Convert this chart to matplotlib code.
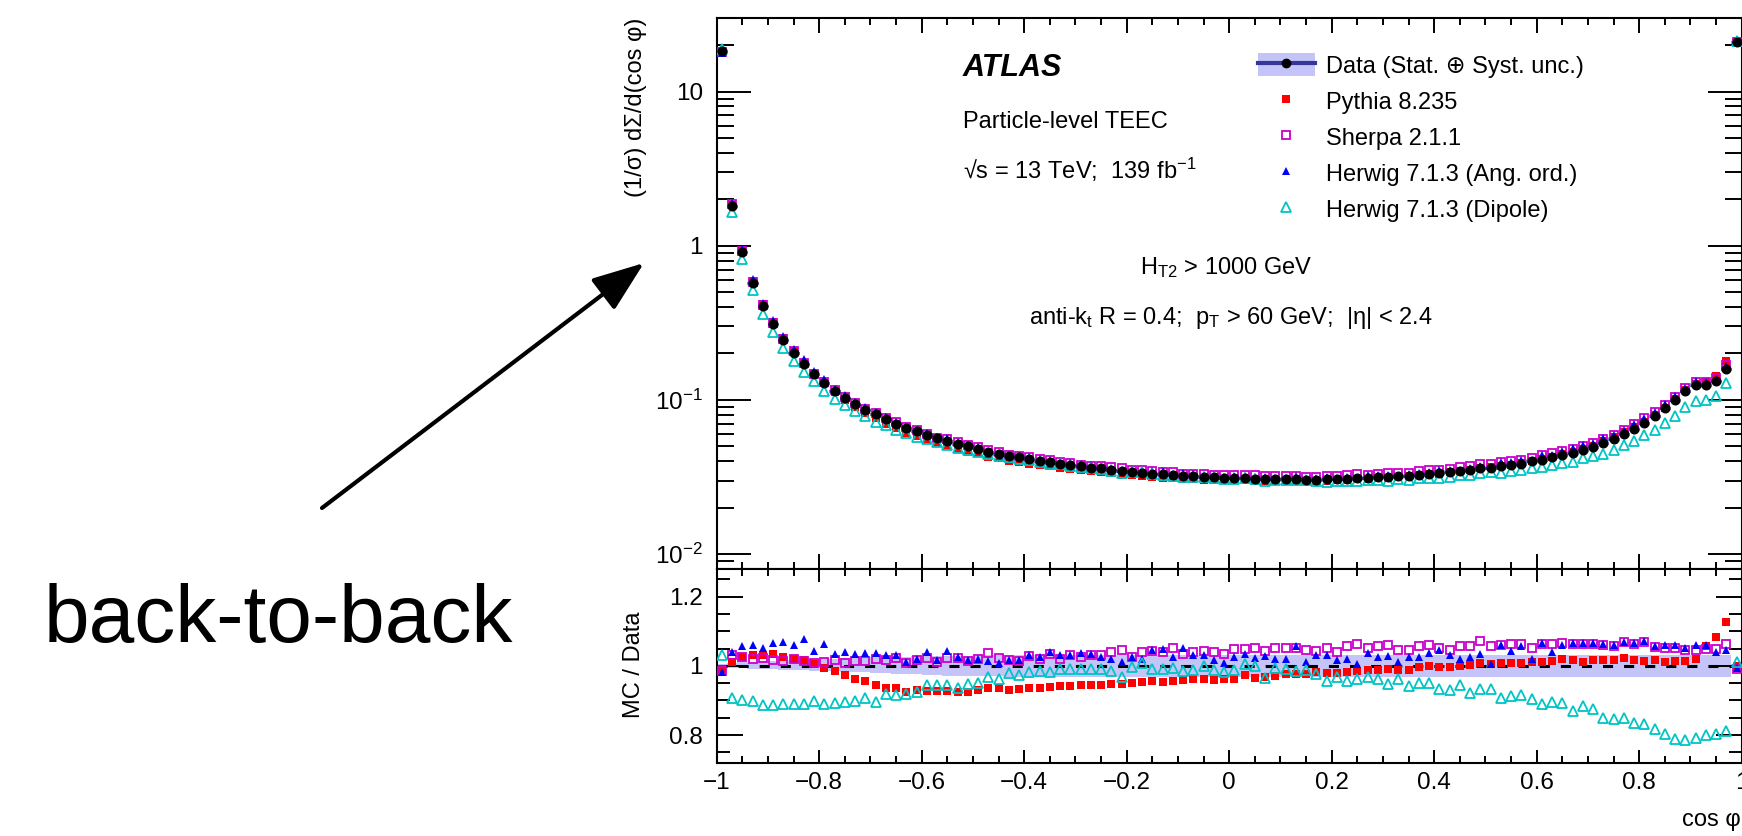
import numpy as np
import matplotlib
matplotlib.use("Agg")
import matplotlib.pyplot as plt
from matplotlib.ticker import FixedLocator, FixedFormatter, MultipleLocator, FuncFormatter, LogLocator, NullFormatter
from matplotlib.patches import Patch, FancyArrowPatch
from matplotlib.lines import Line2D

plt.rcParams['font.family'] = ['Liberation Sans', 'DejaVu Sans']
plt.rcParams['mathtext.fontset'] = 'custom'
plt.rcParams['mathtext.rm'] = 'Liberation Sans'
plt.rcParams['mathtext.it'] = 'Liberation Sans:italic'
plt.rcParams['mathtext.bf'] = 'Liberation Sans:bold'

# 100 bins in cos(phi), width 0.02
bin_edges = np.linspace(-1.0, 1.0, 101)

# unfolded data, (1/sigma) dSigma/d(cos phi)
data = [18.2, 1.82, 0.906, 0.570, 0.405, 0.309, 0.244, 0.202, 0.170, 0.147,
        0.129, 0.114, 0.103, 0.0938, 0.0866, 0.0804, 0.0750, 0.0699, 0.0662, 0.0624,
        0.0590, 0.0564, 0.0542, 0.0518, 0.0500, 0.0483, 0.0459, 0.0448, 0.0433, 0.0424,
        0.0412, 0.0404, 0.0394, 0.0386, 0.0377, 0.0370, 0.0364, 0.0359, 0.0353, 0.0346,
        0.0341, 0.0337, 0.0332, 0.0329, 0.0324, 0.0321, 0.0319, 0.0316, 0.0315, 0.0313,
        0.0312, 0.0310, 0.0309, 0.0307, 0.0305, 0.0305, 0.0305, 0.0304, 0.0304, 0.0305,
        0.0307, 0.0309, 0.0310, 0.0312, 0.0315, 0.0316, 0.0319, 0.0323, 0.0326, 0.0329,
        0.0334, 0.0340, 0.0346, 0.0352, 0.0359, 0.0364, 0.0371, 0.0377, 0.0386, 0.0400,
        0.0410, 0.0423, 0.0438, 0.0455, 0.0476, 0.0495, 0.0529, 0.0561, 0.0601, 0.0652,
        0.0713, 0.0787, 0.0883, 0.0995, 0.114, 0.125, 0.124, 0.132, 0.159, 21.0]

# relative data uncertainty (stat + syst), up / down
unc_up = [0.005, 0.008, 0.010, 0.012, 0.014, 0.015, 0.016, 0.017, 0.018, 0.019,
          0.020, 0.021, 0.022, 0.023, 0.024, 0.025, 0.026, 0.027, 0.027, 0.028,
          0.028, 0.028, 0.029, 0.029, 0.029, 0.029, 0.030, 0.030, 0.030, 0.030,
          0.030, 0.030, 0.030, 0.030, 0.030, 0.030, 0.030, 0.030, 0.030, 0.030,
          0.030, 0.030, 0.030, 0.030, 0.030, 0.030, 0.030, 0.030, 0.030, 0.030,
          0.031, 0.031, 0.031, 0.031, 0.031, 0.031, 0.031, 0.031, 0.031, 0.031,
          0.031, 0.031, 0.031, 0.031, 0.031, 0.031, 0.031, 0.031, 0.031, 0.031,
          0.031, 0.031, 0.031, 0.031, 0.031, 0.031, 0.031, 0.031, 0.031, 0.031,
          0.031, 0.031, 0.031, 0.031, 0.031, 0.031, 0.031, 0.031, 0.031, 0.031,
          0.031, 0.031, 0.031, 0.031, 0.031, 0.031, 0.031, 0.031, 0.031, 0.004]
unc_dn = [0.005, 0.006, 0.007, 0.008, 0.009, 0.010, 0.011, 0.012, 0.013, 0.014,
          0.015, 0.016, 0.017, 0.018, 0.019, 0.020, 0.022, 0.023, 0.024, 0.025,
          0.026, 0.027, 0.028, 0.028, 0.029, 0.029, 0.030, 0.030, 0.031, 0.031,
          0.031, 0.031, 0.031, 0.031, 0.031, 0.031, 0.031, 0.031, 0.031, 0.031,
          0.031, 0.031, 0.031, 0.031, 0.031, 0.031, 0.031, 0.031, 0.031, 0.031,
          0.033, 0.033, 0.033, 0.033, 0.033, 0.033, 0.033, 0.033, 0.033, 0.033,
          0.033, 0.033, 0.033, 0.033, 0.033, 0.033, 0.033, 0.033, 0.033, 0.033,
          0.033, 0.033, 0.033, 0.033, 0.033, 0.033, 0.033, 0.033, 0.033, 0.033,
          0.033, 0.033, 0.033, 0.033, 0.033, 0.033, 0.033, 0.033, 0.033, 0.033,
          0.033, 0.033, 0.033, 0.033, 0.033, 0.033, 0.033, 0.033, 0.033, 0.004]

# MC / Data ratios
pythia = [0.990, 1.010, 1.027, 1.031, 1.031, 1.034, 1.027, 1.021, 1.016, 1.005,
          0.995, 0.985, 0.973, 0.963, 0.956, 0.944, 0.935, 0.935, 0.925, 0.929,
          0.928, 0.928, 0.927, 0.925, 0.925, 0.930, 0.935, 0.935, 0.931, 0.934,
          0.936, 0.937, 0.939, 0.941, 0.943, 0.945, 0.945, 0.945, 0.947, 0.947,
          0.950, 0.952, 0.956, 0.952, 0.957, 0.959, 0.961, 0.963, 0.960, 0.963,
          0.963, 0.974, 0.966, 0.969, 0.971, 0.976, 0.976, 0.976, 0.981, 0.978,
          0.979, 0.983, 0.986, 0.988, 0.988, 0.990, 0.988, 0.988, 0.997, 1.000,
          0.996, 0.996, 1.000, 1.002, 1.007, 1.004, 1.008, 1.008, 1.008, 1.010,
          1.011, 1.014, 1.019, 1.016, 1.012, 1.018, 1.017, 1.017, 1.023, 1.017,
          1.014, 1.017, 1.010, 1.014, 1.014, 1.021, 1.056, 1.084, 1.128, 1.000]
sherpa = [0.986, 1.031, 1.025, 1.021, 1.024, 1.016, 1.014, 1.021, 1.014, 1.007,
          1.012, 1.017, 1.009, 1.013, 1.013, 1.019, 1.018, 1.024, 1.009, 1.017,
          1.024, 1.010, 1.024, 1.024, 1.013, 1.019, 1.037, 1.024, 1.016, 1.014,
          1.029, 1.021, 1.034, 1.021, 1.032, 1.027, 1.031, 1.031, 1.039, 1.046,
          1.027, 1.039, 1.043, 1.040, 1.052, 1.034, 1.039, 1.043, 1.040, 1.034,
          1.048, 1.050, 1.051, 1.043, 1.051, 1.051, 1.052, 1.046, 1.043, 1.053,
          1.040, 1.058, 1.063, 1.051, 1.056, 1.060, 1.046, 1.046, 1.058, 1.060,
          1.053, 1.046, 1.058, 1.058, 1.072, 1.058, 1.061, 1.063, 1.063, 1.053,
          1.063, 1.063, 1.067, 1.063, 1.063, 1.063, 1.060, 1.056, 1.069, 1.063,
          1.069, 1.055, 1.053, 1.053, 1.046, 1.045, 1.050, 1.050, 1.063, 0.992]
herwig_ao = [0.983, 1.039, 1.056, 1.060, 1.053, 1.066, 1.070, 1.060, 1.079, 1.043,
             1.063, 1.034, 1.040, 1.034, 1.037, 1.037, 1.031, 1.031, 1.012, 1.019,
             1.039, 1.017, 1.043, 1.027, 1.017, 1.021, 1.014, 1.008, 1.017, 1.017,
             1.031, 1.027, 1.040, 1.031, 1.031, 1.037, 1.034, 1.027, 1.021, 1.010,
             1.027, 1.021, 1.046, 1.050, 1.027, 1.053, 1.031, 1.031, 1.017, 1.008,
             1.027, 1.034, 1.024, 1.029, 1.021, 1.021, 1.058, 1.010, 1.031, 1.031,
             1.017, 1.021, 1.005, 1.037, 1.027, 1.029, 1.010, 1.027, 1.027, 1.037,
             1.046, 1.031, 1.019, 1.027, 1.034, 1.005, 1.060, 1.043, 1.056, 1.021,
             1.066, 1.040, 1.060, 1.066, 1.066, 1.066, 1.063, 1.060, 1.069, 1.066,
             1.072, 1.058, 1.060, 1.060, 1.053, 1.060, 1.060, 1.039, 1.045, 0.995]
herwig_dip = [1.031, 0.908, 0.901, 0.899, 0.886, 0.886, 0.889, 0.891, 0.891, 0.897,
              0.889, 0.894, 0.896, 0.899, 0.908, 0.896, 0.918, 0.916, 0.920, 0.925,
              0.944, 0.945, 0.944, 0.937, 0.947, 0.950, 0.969, 0.963, 0.979, 0.973,
              0.983, 0.986, 0.981, 0.992, 0.992, 0.990, 0.990, 0.990, 0.986, 0.969,
              0.998, 1.008, 0.992, 0.992, 0.995, 0.986, 0.988, 1.000, 0.988, 0.983,
              0.988, 1.005, 1.000, 0.966, 0.995, 0.990, 0.986, 0.987, 0.976, 0.957,
              0.969, 0.957, 0.961, 0.969, 0.963, 0.947, 0.963, 0.942, 0.950, 0.950,
              0.934, 0.930, 0.944, 0.921, 0.934, 0.933, 0.906, 0.913, 0.915, 0.904,
              0.889, 0.896, 0.894, 0.870, 0.884, 0.875, 0.848, 0.846, 0.848, 0.836,
              0.833, 0.816, 0.804, 0.788, 0.786, 0.791, 0.801, 0.804, 0.812, 1.012]

labels = ['Data (Stat. \u2295 Syst. unc.)', 'Pythia 8.235', 'Sherpa 2.1.1',
          'Herwig 7.1.3 (Ang. ord.)', 'Herwig 7.1.3 (Dipole)']

centers = 0.5 * (bin_edges[:-1] + bin_edges[1:])
width = bin_edges[1] - bin_edges[0]
data = np.array(data)
up = np.array(unc_up)
dn = np.array(unc_dn)

band_col = '#c4c4f8'
line_col = '#35359a'
styles = [
    dict(marker='s', color='#ff0000', ms=5.5, mew=0, ls='none'),
    dict(marker='s', mfc='none', mec='#cc00cc', ms=6, mew=1.3, ls='none'),
    dict(marker='^', color='#0000ff', ms=6.3, mew=0, ls='none'),
    dict(marker='^', mfc='none', mec='#00c4c4', ms=7, mew=1.3, ls='none'),
]
ratios = [np.array(pythia), np.array(sherpa), np.array(herwig_ao), np.array(herwig_dip)]

W, H = 1742, 836
fig = plt.figure(figsize=(W / 100, H / 100), dpi=100)
ax = fig.add_axes([716.7 / W, 1 - 569 / H, 1025 / W, (569 - 18) / H])
rax = fig.add_axes([716.7 / W, 1 - 762.7 / H, 1025 / W, (762.7 - 569) / H], sharex=ax)

# main panel
ax.bar(centers, data * (up + dn), width=width, bottom=data * (1 - dn),
       color=band_col, lw=0, zorder=1)
for r, st in zip(ratios, styles):
    ax.plot(centers, data * r, zorder=3, **st)
ax.errorbar(centers, data, xerr=width / 2, fmt='o', color='black', ms=6.2,
            ecolor=line_col, elinewidth=2.5, capsize=0, zorder=5)

ax.set_yscale('log')
ax.set_xlim(-1, 1)
ax.set_ylim(0.008, 30)
ax.yaxis.set_major_locator(FixedLocator([0.01, 0.1, 1, 10]))
ax.yaxis.set_major_formatter(FixedFormatter(['10$^{-2}$', '10$^{-1}$', '1', '10']))
ax.yaxis.set_minor_locator(LogLocator(base=10, subs=np.arange(2, 10)))
ax.yaxis.set_minor_formatter(NullFormatter())

# ratio panel
rax.bar(centers, up + dn, width=width, bottom=1 - dn, color=band_col, lw=0, zorder=1)
rax.axhline(1, color='black', lw=2.2, ls=(0, (3.3, 3.6)), zorder=2)
for r, st in zip(ratios, styles):
    rax.plot(centers, r, zorder=3, **st)
rax.set_ylim(0.72, 1.28)
rax.yaxis.set_major_locator(FixedLocator([0.8, 1.0, 1.2]))
rax.yaxis.set_minor_locator(MultipleLocator(0.05))
rax.yaxis.set_major_formatter(FuncFormatter(lambda v, p: '%g' % v))
rax.xaxis.set_major_locator(MultipleLocator(0.2))
rax.xaxis.set_minor_locator(MultipleLocator(0.05))
rax.xaxis.set_major_formatter(
    FuncFormatter(lambda v, p: ('%g' % (round(v, 6) + 0.0)).replace('-', '\u2212')))

for a in (ax, rax):
    for s in a.spines.values():
        s.set_linewidth(1.5)
    a.tick_params(which='both', direction='in', top=True, right=True, width=1.4,
                  labelsize=17.5, colors='black')
ax.tick_params(axis='x', which='major', length=10.8, labelbottom=False)
ax.tick_params(axis='x', which='minor', length=5)
ax.tick_params(axis='y', which='major', length=24.5, pad=10)
ax.tick_params(axis='y', which='minor', length=12)
rax.tick_params(axis='x', which='major', length=9.4, pad=6.5)
rax.tick_params(axis='x', which='minor', length=5)
rax.tick_params(axis='y', which='major', length=18.7, pad=10)
rax.tick_params(axis='y', which='minor', length=9.4)

# legend
handles = [(Patch(fc=band_col, ec='none'),
            Line2D([], [], color=line_col, lw=3, marker='o', mfc='black', mec='black', ms=6))]
handles += [Line2D([], [], **st) for st in styles]
ax.legend(handles, labels, loc='upper left', bbox_to_anchor=(1258 / W, 1 - 53 / H),
          bbox_transform=fig.transFigure, frameon=False, fontsize=17,
          handlelength=2.4, handleheight=1.15, handletextpad=0.5,
          labelspacing=0.48, borderpad=0, borderaxespad=0)

# labels and annotations
fig.text(963 / W, 1 - 76 / H, 'ATLAS', fontsize=22, fontweight='bold',
         fontstyle='italic', va='baseline')
fig.text(963 / W, 1 - 128.3 / H, 'Particle-level TEEC', fontsize=17, va='baseline')
fig.text(963 / W, 1 - 179 / H, '\u221as = 13 TeV;  139 fb$^{-1}$', fontsize=17, va='baseline')
fig.text(1226 / W, 1 - 274 / H, 'H$_{\\mathrm{T2}}$ > 1000 GeV', fontsize=17,
         ha='center', va='baseline')
fig.text(1231 / W, 1 - 324 / H,
         'anti-k$_{\\mathrm{t}}$ R = 0.4;  p$_{\\mathrm{T}}$ > 60 GeV;  |\u03b7| < 2.4',
         fontsize=17, ha='center', va='baseline')

fig.text(635.5 / W, 1 - 18 / H, '(1/\u03c3) d\u03a3/d(cos \u03c6)', rotation=90,
         ha='center', va='top', fontsize=17)
fig.text(634 / W, 1 - 665 / H, 'MC / Data', rotation=90, ha='center', va='center',
         fontsize=17)
fig.text(1741 / W, 1 - 820 / H, 'cos \u03c6', ha='right', va='center', fontsize=17)

fig.text(44 / W, 1 - 642 / H, 'back-to-back', fontsize=59, va='baseline')
arrow = FancyArrowPatch((322 / W, 1 - 508 / H), (644 / W, 1 - 263 / H),
                        transform=fig.transFigure,
                        arrowstyle='-|>,head_length=3.2,head_width=1.2',
                        mutation_scale=10, lw=3, color='black',
                        shrinkA=0, shrinkB=0)
fig.add_artist(arrow)

fig.savefig('out.png', dpi=100)
